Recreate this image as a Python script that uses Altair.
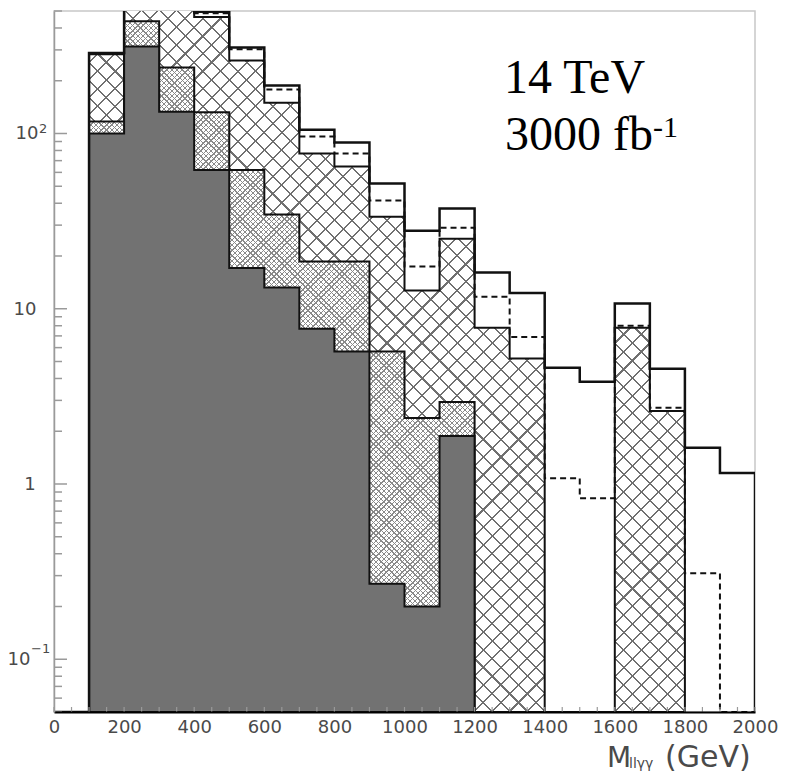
import math
import altair as alt
import pandas as pd

# ---------------- data ----------------
bin_width = 100
# darkest filled layer, bins starting at 100 GeV
dark_start = 100
dark = [100, 314, 133, 62, 17.1, 13.2, 7.7, 5.7, 0.27, 0.20, 1.88]
# medium (fine cross-hatched) layer, bins starting at 100 GeV
medium_start = 100
medium = [117, 437, 238, 132, 62, 34.5, 18.6, 18.6, 5.7, 2.38, 2.94]
# coarse cross-hatched layer, bins starting at 100 GeV (0.05 = empty bin)
coarse_start = 100
coarse = [283, 650, 560, 462, 261, 150, 77, 64.8, 33.5, 12.7, 25.1,
          7.8, 5.2, 0.05, 0.05, 7.8, 2.61]
# dashed histogram, bins starting at 100 GeV
dashed_start = 100
dashed = [286, 800, 650, 485, 302, 178, 96, 77, 41.4, 17.4, 29,
          11.7, 6.9, 1.08, 0.83, 8.0, 2.72, 0.31, 0.05]
# solid (total) histogram, bins starting at 0 GeV
solid_start = 0
solid = [0.05, 288, 900, 700, 495, 310, 188, 105, 88.9, 51.8, 27.9,
         37.3, 16.1, 12.3, 4.6, 3.83, 10.7, 4.54, 1.61, 1.155]

x_label_values = [0, 200, 400, 600, 800, 1000, 1200, 1400, 1600, 1800, 2000]
x_tick_values = list(range(0, 2001, 50))
y_label_values = [0.1, 1, 10, 100]
y_label_texts = ["10", "1", "10", "10"]
y_label_sups = ["\u22121", "", "", "2"]
y_minor_values = [m * 10.0 ** d for d in range(-2, 3) for m in range(2, 10)
                  if 0.05 <= m * 10.0 ** d <= 500]

# ---------------- layout ----------------
W, H = 701, 701
XMIN, XMAX = 0, 2000
YMIN, YMAX = 0.05, 500

xscale = alt.Scale(domain=[XMIN, XMAX], nice=False, zero=False)
yscale = alt.Scale(type="log", domain=[YMIN, YMAX], nice=False)

FONT = "DejaVu Sans"
LABEL_COLOR = "#4a4a4a"
xaxis = alt.Axis(values=x_label_values, ticks=False, grid=False, title=None,
                 format="d",
                 labelFont=FONT, labelFontSize=18, labelColor=LABEL_COLOR,
                 labelPadding=6, domainColor="#000000", domainWidth=2,
                 labelFlush=False, labelOverlap=False, zindex=1)
yaxis = alt.Axis(values=y_label_values, ticks=False, grid=False, title=None,
                 labels=False, domainColor="#9a9a9a", domainWidth=1.5, zindex=1)


def X():
    return alt.X("m:Q", scale=xscale, axis=xaxis)


def Y():
    return alt.Y("n:Q", scale=yscale, axis=yaxis)


def step_df(start, values):
    xs = [start + bin_width * i for i in range(len(values))]
    xs.append(start + bin_width * len(values))
    ys = list(values) + [values[-1]]
    return pd.DataFrame({"m": xs, "n": ys})


def line_df(start, values, close_right):
    pts = [(start + bin_width * i, v) for i, v in enumerate(values)]
    end = start + bin_width * len(values)
    pts.append((end, values[-1]))
    if close_right:
        pts.append((end, YMIN))
    return pd.DataFrame({"m": [p[0] for p in pts], "n": [p[1] for p in pts],
                         "o": list(range(len(pts)))})


def ypix(v):
    return H * (math.log10(YMAX) - math.log10(v)) / (math.log10(YMAX) - math.log10(YMIN))


def hatch(start, values, period, lw, color, flip):
    """Diagonal hatch made of a striped linear gradient (45 deg in pixels)."""
    w = W * (bin_width * len(values)) / (XMAX - XMIN)
    h = H - ypix(max(values))
    r = h / w
    L = w * (1 + r * r) / math.sqrt(2)
    clear = "rgba(255,255,255,0)"
    stops = []
    k = 0
    while k * period / L < 1:
        a = k * period / L
        b = min((k * period + lw) / L, 1)
        c = min((k + 1) * period / L, 1)
        stops += [alt.GradientStop(color=color, offset=round(a, 6)),
                  alt.GradientStop(color=color, offset=round(b, 6)),
                  alt.GradientStop(color=clear, offset=round(b, 6)),
                  alt.GradientStop(color=clear, offset=round(c, 6))]
        k += 1
    if flip:
        return alt.LinearGradient(gradient="linear", stops=stops, x1=1, x2=0, y1=0, y2=r)
    return alt.LinearGradient(gradient="linear", stops=stops, x1=0, x2=1, y1=0, y2=r)


def area(start, values, **kw):
    return alt.Chart(step_df(start, values)).mark_area(
        interpolate="step-after", clip=True, **kw).encode(
        x=X(), y=Y(), y2=alt.datum(YMIN))


layers = []
# coarse cross-hatched layer
layers.append(area(coarse_start, coarse, color="#ffffff"))
layers.append(area(coarse_start, coarse, fill=hatch(coarse_start, coarse, 12.4, 1.5, "#707070", False)))
layers.append(area(coarse_start, coarse, fill=hatch(coarse_start, coarse, 12.4, 1.5, "#707070", True)))
layers.append(area(coarse_start, coarse, fillOpacity=0, stroke="#111111", strokeWidth=2))
# medium (fine cross-hatch) layer
layers.append(area(medium_start, medium, color="#ffffff"))
layers.append(area(medium_start, medium, fill=hatch(medium_start, medium, 3.7, 1.0, "#8a8a8a", False)))
layers.append(area(medium_start, medium, fill=hatch(medium_start, medium, 3.7, 1.0, "#8a8a8a", True)))
layers.append(area(medium_start, medium, fillOpacity=0, stroke="#111111", strokeWidth=2))
# dark layer
layers.append(area(dark_start, dark, color="#727272", stroke="#111111", strokeWidth=2))

# dashed histogram
layers.append(alt.Chart(line_df(dashed_start, dashed, False)).mark_line(
    interpolate="step-after", clip=True, color="#111111", strokeWidth=2,
    strokeDash=[6, 4]).encode(x=X(), y=Y(), order="o:Q"))
# solid histogram
layers.append(alt.Chart(line_df(solid_start, solid, True)).mark_line(
    interpolate="step-after", clip=True, color="#111111", strokeWidth=2.5
).encode(x=X(), y=Y(), order="o:Q"))

# ticks drawn inside the frame
layers.append(alt.Chart(pd.DataFrame({"n": y_label_values})).mark_rule(
    color="#9a9a9a", strokeWidth=1.5).encode(y=Y(), x=alt.value(0), x2=alt.value(13)))
layers.append(alt.Chart(pd.DataFrame({"n": y_minor_values})).mark_rule(
    color="#9a9a9a", strokeWidth=1.5).encode(y=Y(), x=alt.value(0), x2=alt.value(8)))
layers.append(alt.Chart(pd.DataFrame({"m": x_tick_values})).mark_rule(
    color="#9a9a9a", strokeWidth=1.2).encode(x=X(), y=alt.value(H), y2=alt.value(H - 5)))

# y tick labels with real superscripts
label_dx = [-35, -24, -29, -27]     # horizontal centre of each label (px from axis)
for val, txt, sup, dx in zip(y_label_values, y_label_texts, y_label_sups, label_dx):
    d = pd.DataFrame({"n": [val]})
    layers.append(alt.Chart(d).mark_text(text=txt, font=FONT, fontSize=18, color=LABEL_COLOR,
                                         align="center", baseline="middle", dy=1).encode(
        y=Y(), x=alt.value(dx)))
    if sup:
        layers.append(alt.Chart(d).mark_text(text=sup, font=FONT, fontSize=13, color=LABEL_COLOR,
                                             align="left", baseline="alphabetic",
                                             dy=-6 if val < 1 else 0).encode(
            y=Y(), x=alt.value(dx + 12)))

# annotations
one = pd.DataFrame({"k": [0]})
def label(text, x, y, size, font, color="#000000", align="left"):
    return alt.Chart(one).mark_text(text=text, font=font, fontSize=size, color=color,
                                    align=align, baseline="alphabetic").encode(
        x=alt.value(x), y=alt.value(y))

SERIF = "Liberation Serif"
layers.append(label("14 TeV", 450, 82, 48, SERIF))
layers.append(label("3000 fb", 451, 139, 48, SERIF))
layers.append(label("-1", 599, 126, 30, SERIF))
layers.append(label("M", 553, 756, 28, FONT, LABEL_COLOR))
layers.append(label("ll\u03b3\u03b3", 575, 757, 14, FONT, LABEL_COLOR))
layers.append(label("(GeV)", 611, 756, 30, FONT, LABEL_COLOR))

chart = alt.layer(*layers).properties(
    width=W, height=H,
    autosize=alt.AutoSizeParams(type="none"),
    padding={"left": 54, "top": 11, "right": 37, "bottom": 62},
    background="#ffffff",
).configure_view(stroke="#c8c8c8", strokeWidth=1.5)

chart.save("out.html", embed_options={"renderer": "svg", "actions": False})
